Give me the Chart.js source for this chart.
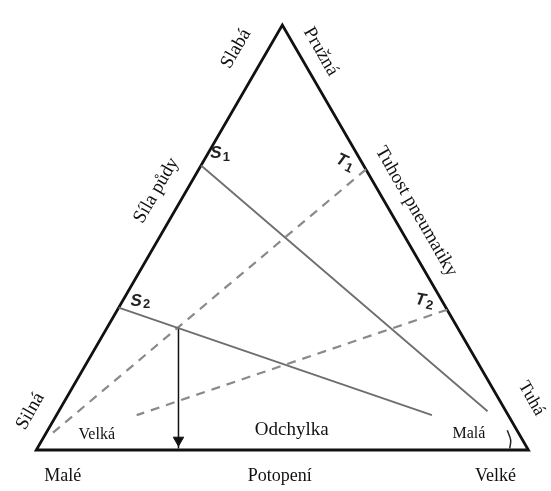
<!DOCTYPE html>
<html>
<head>
<meta charset="utf-8">
<script src="https://cdn.jsdelivr.net/npm/chart.js@4"></script>
<style>
html,body{margin:0;padding:0;background:#fff;}
#wrap{width:551px;height:491px;}
</style>
</head>
<body>
<div id="wrap"><canvas id="c" width="551" height="491"></canvas></div>
<script>
// Diagram frame: base of triangle = 0..100 units, equilateral
const triangle = [[0,0],[100,0],[50,86.6],[0,0],[100,0]];
const lineS1 = [[33.5,58.0],[91.7,7.9]];
const lineS2 = [[16.75,29.0],[80.4,7.1]];
const lineT1 = [[67.0,57.2],[3.0,3.2]];
const lineT2 = [[83.5,28.6],[20.4,7.1]];
const arrowLine = [[28.9,25.1],[28.9,0.3]];
const arrowHead = [[28.9,2.0]];
const angleMark = [[95.7,4.0],[96.4,2.0],[96.2,0.3]];

const edgeLabels = ['Slabá','Pružná','Síla půdy','Tuhost pneumatiky','Silná','Tuhá'];
const bottomLabels = ['Malé','Potopení','Velké'];
const innerLabels = ['Velká','Odchylka','Malá'];
const pointLabels = ['S','S','T','T'];
const pointSubs = ['1','2','1','2'];

const toPts = a => a.map(p => ({x:p[0], y:p[1]}));

// text placement (data coords, rotation deg, font px)
const edgePos = [[40.6,81.8,-60,19],[57.8,81.2,60,19],[24.4,52.9,-60,19],[77.2,48.6,60,19],[-1.2,7.9,-60,19],[100.6,10.5,60,18]];
const bottomPos = [[5.4,-5.3,0,18],[49.5,-5.3,0,18],[93.3,-5.3,0,18]];
const innerPos = [[12.3,3.0,0,16],[51.9,4.0,0,19],[87.9,3.3,0,16]];
const pointPos = [[37.4,60.2,0],[21.2,30.2,0],[62.8,58.4,25],[79.0,30.2,10]];

const textPlugin = {
  id:'texts',
  afterDatasetsDraw(chart){
    const ctx = chart.ctx, xs = chart.scales.x, ys = chart.scales.y;
    const put = (txt, pos, family) => {
      ctx.save();
      ctx.translate(xs.getPixelForValue(pos[0]), ys.getPixelForValue(pos[1]));
      ctx.rotate(pos[2]*Math.PI/180);
      ctx.font = pos[3] + 'px ' + family;
      ctx.fillStyle = '#111';
      ctx.textAlign = 'center';
      ctx.textBaseline = 'middle';
      ctx.fillText(txt, 0, 0);
      ctx.restore();
    };
    const serif = '"Liberation Serif", "DejaVu Serif", serif';
    edgeLabels.forEach((t,i)=>put(t, edgePos[i], serif));
    bottomLabels.forEach((t,i)=>put(t, bottomPos[i], serif));
    innerLabels.forEach((t,i)=>put(t, innerPos[i], serif));
    pointLabels.forEach((t,i)=>{
      const p = pointPos[i];
      ctx.save();
      ctx.translate(xs.getPixelForValue(p[0]), ys.getPixelForValue(p[1]));
      ctx.rotate(p[2]*Math.PI/180);
      ctx.fillStyle = '#222';
      ctx.textBaseline = 'middle';
      ctx.textAlign = 'left';
      ctx.font = 'italic bold 17px "Liberation Sans", Arial, sans-serif';
      const w = ctx.measureText(t).width;
      ctx.fillText(t, -10, -1);
      ctx.font = 'bold 13px "Liberation Sans", Arial, sans-serif';
      ctx.fillText(pointSubs[i], -10 + w + 1, 3);
      ctx.restore();
    });
  }
};

new Chart(document.getElementById('c'), {
  type:'scatter',
  data:{
    datasets:[
      {data:toPts(lineS1), showLine:true, borderColor:'#6e6e6e', borderWidth:1.8, pointRadius:0},
      {data:toPts(lineS2), showLine:true, borderColor:'#6e6e6e', borderWidth:1.8, pointRadius:0},
      {data:toPts(lineT1), showLine:true, borderColor:'#8a8a8a', borderWidth:2.2, borderDash:[9,7], pointRadius:0},
      {data:toPts(lineT2), showLine:true, borderColor:'#8a8a8a', borderWidth:2.2, borderDash:[9,7], pointRadius:0},
      {data:toPts(arrowLine), showLine:true, borderColor:'#111', borderWidth:1.5, pointRadius:0},
      {data:toPts(arrowHead), showLine:false, pointStyle:'triangle', rotation:180, pointRadius:6, backgroundColor:'#111', borderColor:'#111', borderWidth:1},
      {data:toPts(angleMark), showLine:true, borderColor:'#222', borderWidth:1.5, tension:0.4, pointRadius:0},
      {data:toPts(triangle), showLine:true, borderColor:'#111', borderWidth:2.8, borderJoinStyle:'miter', pointRadius:0}
    ]
  },
  options:{
    responsive:false,
    animation:false,
    events:[],
    layout:{padding:0},
    plugins:{legend:{display:false}, tooltip:{enabled:false}},
    scales:{
      x:{type:'linear', display:false, min:-5.941, max:103.168},
      y:{type:'linear', display:false, min:-6.931, max:90.297}
    }
  },
  plugins:[textPlugin]
});
</script>
</body>
</html>
